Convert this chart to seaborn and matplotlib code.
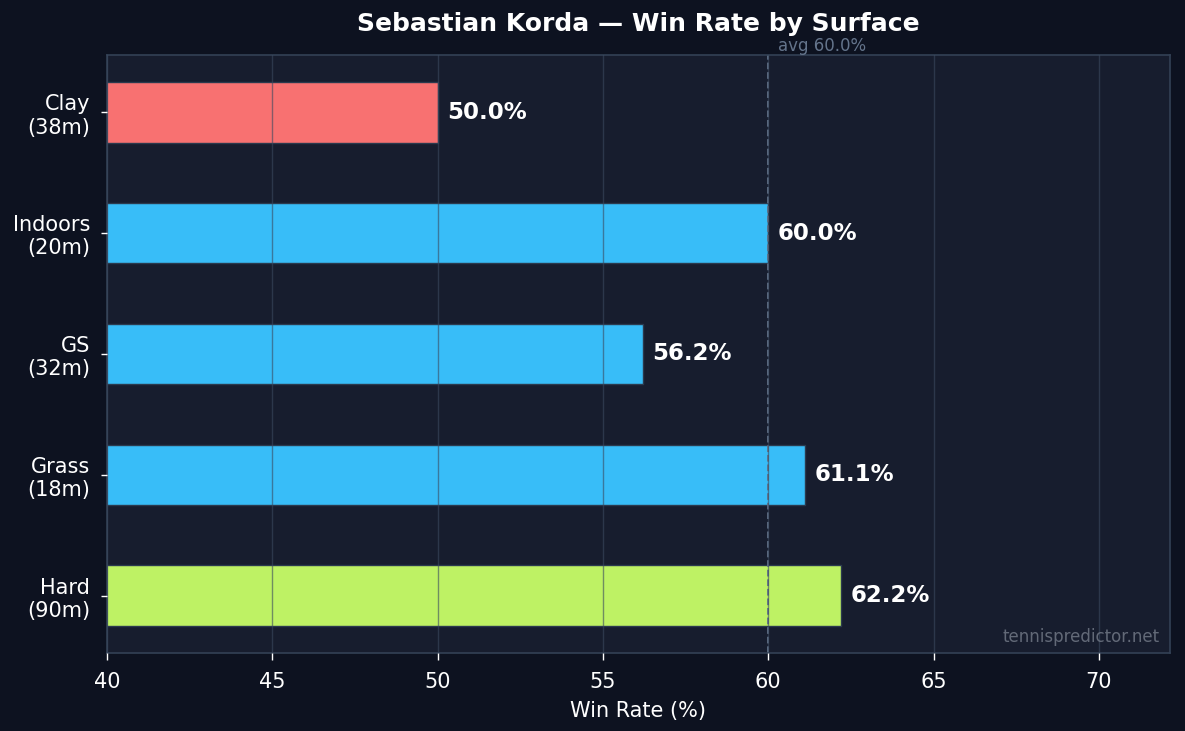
import matplotlib
matplotlib.use('Agg')
import matplotlib.pyplot as plt
import matplotlib.transforms as mtransforms
import seaborn as sns
import pandas as pd

# data
surfaces = ['Clay', 'Indoors', 'GS', 'Grass', 'Hard']
matches = [38, 20, 32, 18, 90]
win_rate = [50.0, 60.0, 56.2, 61.1, 62.2]
bar_colors = ['#f87171', '#38bdf8', '#38bdf8', '#38bdf8', '#bef264']
avg_rate = 60.0

FIG_BG = '#0d1220'
AX_BG = '#171d2e'
SPINE = '#334155'


def main():
    labels = [f'{s}\n({m}m)' for s, m in zip(surfaces, matches)]
    df = pd.DataFrame({'label': labels, 'rate': win_rate})

    sns.set_style('dark')
    plt.rcParams['font.family'] = ['DejaVu Sans']

    fig, ax = plt.subplots(figsize=(11.85, 7.31), dpi=100)
    fig.patch.set_facecolor(FIG_BG)
    ax.set_facecolor(AX_BG)
    fig.subplots_adjust(left=0.0903, right=0.9873, top=0.9248, bottom=0.1067)

    sns.barplot(data=df, y='label', x='rate', hue='label', palette=bar_colors,
                legend=False, width=0.5, orient='h', ax=ax, saturation=1,
                edgecolor='#2b3a4e', linewidth=1)

    ax.set_xlim(40, max(win_rate) * 1.16)
    ax.set_xticks([40, 45, 50, 55, 60, 65, 70])
    n = len(surfaces)
    ax.set_ylim(n - 1 + 0.475, -0.475)

    # grid above the bars
    ax.set_axisbelow(False)
    ax.grid(axis='x', color='#3b4a60', alpha=0.6, linewidth=1)
    ax.grid(axis='y', visible=False)

    ax.axvline(avg_rate, color='#64748b', linestyle='--', linewidth=1.3)
    trans = mtransforms.blended_transform_factory(ax.transData, ax.transAxes)
    ax.text(avg_rate + 0.3, 1.0, f'avg {avg_rate:.1f}%', transform=trans,
            color='#64748b', fontsize=12, ha='left', va='bottom')

    for i, v in enumerate(win_rate):
        ax.text(v + 0.3, i, f'{v:.1f}%', color='white', fontsize=16.5,
                fontweight='bold', ha='left', va='center')

    ax.text(0.99, 0.012, 'tennispredictor.net', transform=ax.transAxes,
            color='#6b7280', fontsize=12, ha='right', va='bottom', alpha=0.9)

    ax.set_title('Sebastian Korda — Win Rate by Surface', color='white',
                 fontsize=18, fontweight='bold', pad=17)
    ax.set_xlabel('Win Rate (%)', color='white', fontsize=15, labelpad=6)
    ax.set_ylabel('')
    ax.tick_params(axis='both', colors='white', labelsize=15, length=5,
                   width=1, left=True, bottom=True)
    ax.tick_params(axis='x', pad=9)
    ax.tick_params(axis='y', length=4, pad=8)
    for lab in ax.get_yticklabels():
        lab.set_ha('right')

    for sp in ax.spines.values():
        sp.set_color(SPINE)
        sp.set_linewidth(1.2)
        sp.set_visible(True)

    fig.savefig('out.png', dpi=100, facecolor=FIG_BG)


if __name__ == '__main__':
    main()
